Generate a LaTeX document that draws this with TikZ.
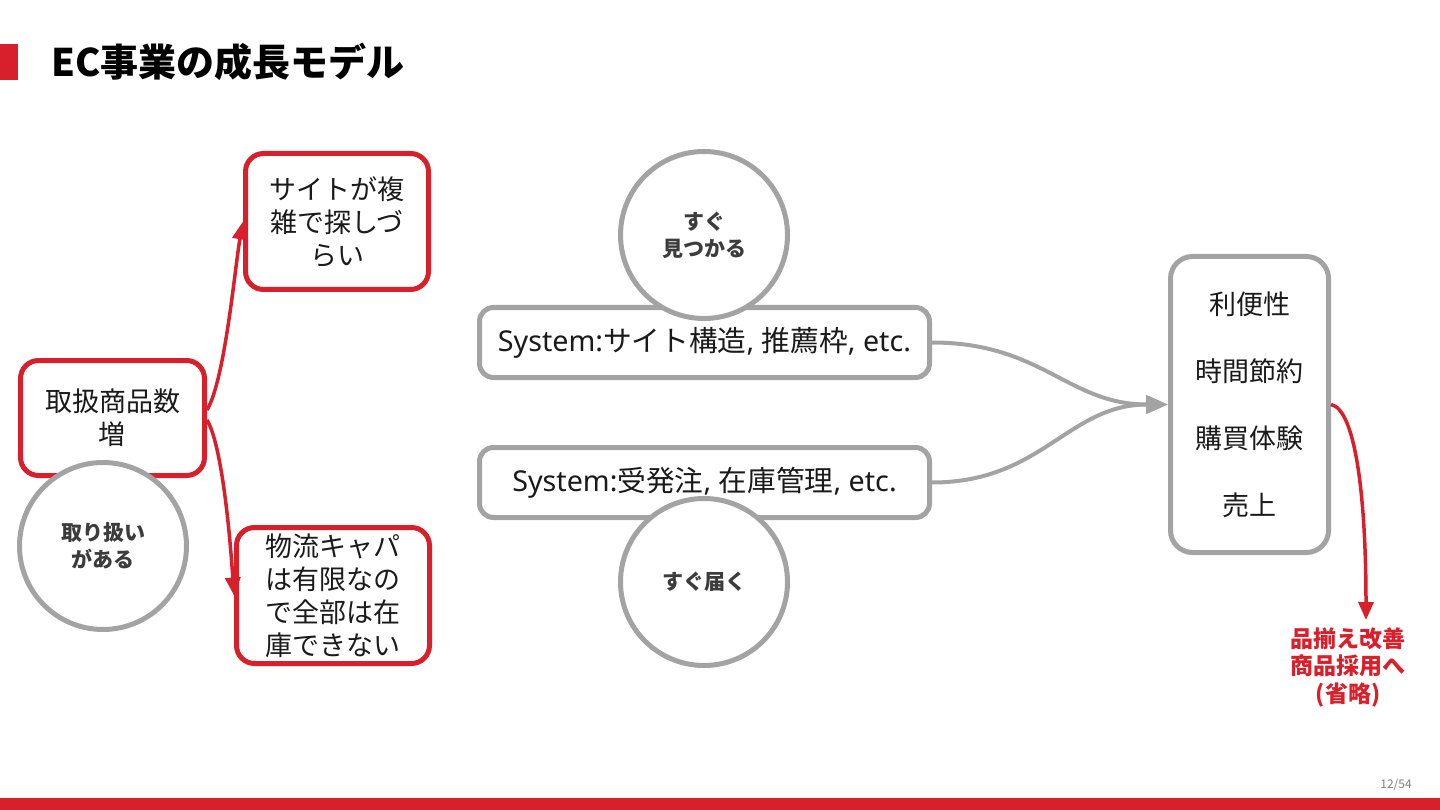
\documentclass[tikz,border=0pt]{standalone}
\usepackage{fontspec}
\setmainfont{Noto Sans CJK JP}
\newfontfamily\latin{Noto Sans}
\usetikzlibrary{positioning,arrows.meta}
\definecolor{ecRed}{HTML}{D7202B}
\definecolor{ecGray}{HTML}{A3A3A3}
\definecolor{ink}{HTML}{1A1A1A}

\begin{document}
\begin{tikzpicture}[x=1pt, y=-1pt,
    redBox/.style={rectangle, rounded corners=18pt, draw=ecRed, line width=5pt, fill=white, align=center, font=\fontsize{27}{33}\selectfont, text=ink, inner sep=0pt},
    grayBox/.style={rectangle, rounded corners=14pt, draw=ecGray, line width=5pt, fill=white, align=center, font=\fontsize{27}{33}\selectfont, text=ink, inner sep=0pt},
    tagCircle/.style={circle, draw=ecGray, line width=5pt, fill=white, minimum size=167pt, align=center, font=\fontsize{21}{27}\selectfont\bfseries, text=ink!85, inner sep=0pt},
    arrowRed/.style={-{Triangle[length=18pt,width=15pt]}, line width=3.5pt, draw=ecRed},
    arrowGray/.style={-{Triangle[length=22pt,width=18pt]}, line width=4pt, draw=ecGray}
]
    \useasboundingbox (0,0) rectangle (1440,810);

    % slide frame
    \fill[ecRed] (0,44) rectangle (18,80);
    \fill[ecRed] (0,798) rectangle (1440,810);
    \node[anchor=west, font=\fontsize{38}{44}\selectfont\bfseries, text=black, inner sep=0pt] (title) at (51,62) {EC事業の成長モデル};
    \node[font=\fontsize{12}{14}\selectfont, text=gray] (page) at (1396,785) {12/54};

    % left: assortment
    \node[redBox, minimum width=184pt, minimum height=115pt] (take) at (112.5,418) {取扱商品数\\増};
    \node[redBox, minimum width=183pt, minimum height=136pt] (site) at (337,221.5) {サイトが複\\雑で探しづ\\らい};
    \node[redBox, minimum width=193pt, minimum height=136pt] (logi) at (333,595.5) {物流キャパ\\は有限なの\\で全部は在\\庫できない};

    \draw[arrowRed] ([yshift=8pt]take.east) .. controls +(18,-30) and +(-8,45) .. (site.west);
    \draw[arrowRed] ([yshift=-2pt]take.east) .. controls +(15,25) and +(-4,-60) .. (logi.west);

    \node[tagCircle] (have) at (103,546) {取り扱い\\がある};

    % middle: systems
    \node[grayBox, font=\fontsize{28.7}{33}\selectfont, minimum width=450pt, minimum height=70pt] (sysA) at (704.5,342.5) {{\latin System:}サイト構造{\latin, }推薦枠{\latin, etc.}};
    \node[grayBox, font=\fontsize{28.7}{33}\selectfont, minimum width=450pt, minimum height=70pt] (sysB) at (704.5,482.5) {{\latin System:}受発注{\latin, }在庫管理{\latin, etc.}};

    \node[tagCircle] (find) at (704,235) {すぐ\\見つかる};
    \node[tagCircle] (ship) at (704,582) {すぐ届く};

    % right: value
    \node[grayBox, rounded corners=22pt, minimum width=158pt, minimum height=296pt] (value) at (1249.5,404.5) {利便性\\[34pt]時間節約\\[34pt]購買体験\\[34pt]売上};

    \draw[arrowGray] (sysA.east) .. controls +(110,0) and +(-100,0) .. (value.west);
    \draw[arrowGray] (sysB.east) .. controls +(110,0) and +(-100,0) .. (value.west);

    \node[font=\fontsize{23}{27.5}\selectfont\bfseries, text=ecRed, align=center, inner sep=0pt] (skip) at (1348,667) {品揃え改善\\商品採用へ\\(省略)};
    \coordinate (skipTop) at (1366,620);
    \draw[arrowRed] (value.east) .. controls +(25,5) and +(0,-120) .. (skipTop);
\end{tikzpicture}
\end{document}
